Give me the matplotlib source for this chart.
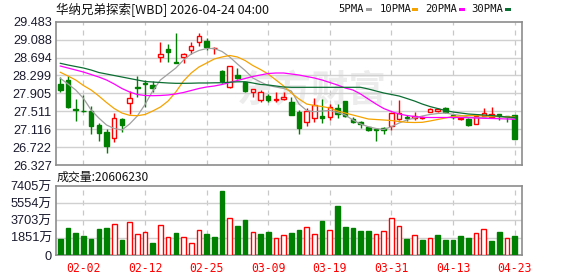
import matplotlib
matplotlib.use("Agg")
import matplotlib.pyplot as plt
import numpy as np

# K-line data (60 trading days)
opens = [28.111, 28.199, 27.553, 27.523, 27.516, 27.208, 27.061, 26.914, 27.340, 27.700,
         28.045, 28.133, 28.089, 28.713, 28.889, 28.603, 28.698, 28.852, 29.029, 29.058,
         28.896, 28.397, 28.037, 28.309, 28.147, 27.927, 27.766, 27.854, 27.766, 27.773,
         27.707, 27.501, 27.281, 27.355, 27.406, 27.391, 27.589, 27.736, 27.332, 27.266,
         27.164, 27.120, 27.134, 27.186, 27.340, 27.380, 27.369, 27.355, 27.501, 27.509,
         27.575, 27.428, 27.340, 27.333, 27.230, 27.413, 27.391, 27.443, 27.406, 27.428]
highs = [28.272, 28.287, 27.780, 27.868, 27.626, 27.244, 27.120, 27.465, 27.369, 27.957,
         28.287, 28.199, 28.177, 29.029, 28.992, 29.227, 28.786, 29.029, 29.227, 29.117,
         28.933, 28.419, 28.515, 28.456, 28.162, 28.001, 27.979, 27.883, 27.942, 27.942,
         27.832, 27.538, 27.589, 27.795, 27.780, 27.663, 27.663, 27.736, 27.391, 27.296,
         27.171, 27.134, 27.171, 27.465, 27.758, 27.428, 27.501, 27.413, 27.582, 27.575,
         27.604, 27.450, 27.384, 27.362, 27.406, 27.575, 27.611, 27.450, 27.413, 27.435]
lows = [27.942, 27.575, 27.296, 27.494, 27.017, 26.855, 26.600, 26.841, 27.061, 27.450,
        27.832, 27.612, 27.927, 28.603, 28.603, 28.566, 28.566, 28.764, 28.955, 28.860,
        28.771, 28.125, 28.030, 28.221, 27.942, 27.832, 27.707, 27.707, 27.707, 27.758,
        27.428, 27.017, 27.193, 27.281, 27.244, 27.318, 27.355, 27.391, 27.244, 27.134,
        27.083, 26.855, 27.002, 27.098, 27.318, 27.296, 27.318, 27.347, 27.494, 27.494,
        27.472, 27.340, 27.318, 27.186, 27.230, 27.413, 27.369, 27.318, 27.281, 26.906]
closes = [27.979, 27.612, 27.538, 27.509, 27.193, 27.039, 26.753, 27.355, 27.208, 27.795,
          28.023, 28.103, 28.015, 28.764, 28.823, 28.566, 28.764, 28.955, 29.168, 28.933,
          28.904, 28.177, 28.500, 28.236, 27.964, 28.001, 27.942, 27.758, 27.780, 27.832,
          27.428, 27.149, 27.516, 27.648, 27.355, 27.611, 27.443, 27.413, 27.281, 27.237,
          27.090, 27.098, 27.098, 27.465, 27.475, 27.362, 27.406, 27.391, 27.560, 27.553,
          27.487, 27.391, 27.362, 27.208, 27.406, 27.472, 27.443, 27.406, 27.384, 26.906]

ma5 = [28.236, 28.111, 27.979, 27.796, 27.538, 27.362, 27.208, 27.131, 27.098, 27.230,
       27.406, 27.659, 27.957, 28.199, 28.331, 28.463, 28.639, 28.772, 28.849, 28.893,
       28.893, 28.827, 28.706, 28.551, 28.408, 28.243, 28.155, 28.078, 28.045, 28.012,
       27.957, 27.670, 27.527, 27.501, 27.516, 27.527, 27.483, 27.428, 27.318, 27.230,
       27.170, 27.131, 27.109, 27.170, 27.252, 27.318, 27.362, 27.406, 27.439, 27.461,
       27.472, 27.443, 27.417, 27.384, 27.373, 27.373, 27.395, 27.395, 27.373, 27.340]
ma10 = [28.369, 28.287, 28.199, 28.078, 27.979, 27.847, 27.703, 27.571, 27.472, 27.421,
        27.413, 27.439, 27.516, 27.604, 27.736, 27.935, 28.177, 28.353, 28.485, 28.573,
        28.662, 28.706, 28.739, 28.706, 28.628, 28.518, 28.430, 28.331, 28.199, 28.067,
        27.913, 27.780, 27.670, 27.637, 27.615, 27.582, 27.516, 27.472, 27.428, 27.384,
        27.340, 27.329, 27.318, 27.307, 27.285, 27.267, 27.263, 27.267, 27.296, 27.329,
        27.362, 27.395, 27.406, 27.417, 27.417, 27.406, 27.395, 27.395, 27.391, 27.384]
ma20 = [28.507, 28.463, 28.419, 28.375, 28.320, 28.265, 28.199, 28.111, 28.012, 27.935,
        27.880, 27.858, 27.853, 27.858, 27.869, 27.891, 27.924, 27.968, 28.012, 28.045,
        28.067, 28.100, 28.144, 28.188, 28.232, 28.276, 28.309, 28.342, 28.353, 28.353,
        28.331, 28.309, 28.276, 28.243, 28.199, 28.144, 28.089, 28.023, 27.979, 27.891,
        27.780, 27.670, 27.571, 27.505, 27.450, 27.417, 27.395, 27.377, 27.373, 27.373,
        27.373, 27.373, 27.373, 27.369, 27.362, 27.355, 27.351, 27.347, 27.340, 27.333]
ma30 = [28.567, 28.529, 28.496, 28.463, 28.419, 28.364, 28.331, 28.298, 28.265, 28.232,
        28.199, 28.166, 28.155, 28.144, 28.133, 28.126, 28.126, 28.128, 28.133, 28.133,
        28.137, 28.139, 28.150, 28.159, 28.161, 28.133, 28.100, 28.089, 28.067, 28.045,
        28.038, 28.038, 28.038, 28.038, 28.038, 28.038, 28.038, 28.038, 28.038, 28.038,
        28.001, 27.957, 27.913, 27.880, 27.846, 27.792, 27.736, 27.670, 27.615, 27.571,
        27.527, 27.494, 27.472, 27.450, 27.439, 27.428, 27.417, 27.399, 27.384, 27.373]

# volume in 万 shares, and whether close was above the previous close
volume = [1717, 2898, 2361, 2039, 1717, 2790, 2898, 3327, 1610, 3541,
          2254, 2468, 1288, 3220, 1932, 2361, 1932, 1288, 2683, 2254,
          1932, 6868, 3971, 3112, 3756, 2468, 2254, 2468, 1824, 2146,
          2361, 2683, 3005, 2254, 3649, 2683, 5259, 3005, 2898, 2576,
          2576, 2254, 2576, 3971, 3112, 1717, 2146, 1610, 1824, 2146,
          1610, 1610, 2039, 1824, 2361, 2790, 1503, 2468, 1824, 2061]
vol_up = [0, 0, 0, 0, 0, 0, 0, 1, 0, 1,
          1, 1, 0, 1, 1, 0, 1, 1, 1, 0,
          0, 0, 1, 0, 0, 1, 0, 0, 1, 1,
          0, 0, 1, 1, 0, 1, 0, 0, 0, 0,
          0, 1, 1, 1, 1, 0, 1, 0, 1, 0,
          0, 0, 0, 0, 1, 1, 0, 0, 1, 0]

date_pos = [3, 11, 19, 27, 35, 43, 51, 59]
date_labels = ["02-02", "02-12", "02-25", "03-09", "03-19", "03-31", "04-13", "04-23"]
price_ticks = [26.327, 26.722, 27.116, 27.511, 27.905, 28.299, 28.694, 29.088, 29.483]
vol_ticks = [0, 1851, 3703, 5554, 7405]
vol_tick_labels = ["0", "1851万", "3703万", "5554万", "7405万"]
title = "华纳兄弟探索[WBD] 2026-04-24 04:00"
vol_title = "成交量:20606230"
ma_names = ["5PMA", "10PMA", "20PMA", "30PMA"]

RED = "#ff0000"
GREEN = "#008000"
MA_COLORS = ["#a0a0a0", "#f5a300", "#ff00ff", "#0b6e32"]
FRAME = "#8c8c8c"
GRID = "#d0d0d0"

plt.rcParams["font.family"] = ["Liberation Sans", "Noto Sans CJK SC"]

fig = plt.figure(figsize=(5.78, 2.76), dpi=100)
ax = fig.add_axes([56 / 578, 1 - 165 / 276, 466 / 578, 143.3 / 276])
axv = fig.add_axes([56 / 578, 1 - 255 / 276, 466 / 578, 69 / 276])

x = np.arange(len(closes))
o = np.array(opens)
c = np.array(closes)
up = c >= o

# watermark
ax.text(0.55, 0.52, "东方财富", transform=ax.transAxes, fontsize=27, color="#ececec",
        ha="center", va="center", fontweight="bold", family="Noto Sans CJK SC", zorder=0)

# wicks
wick_colors = [RED if u else GREEN for u in up]
ax.vlines(x, lows, highs, colors=wick_colors, linewidth=1.0, zorder=2)
# bodies
bottoms = np.minimum(o, c)
heights = np.maximum(np.abs(c - o), 0.004)
ax.bar(x[up], heights[up], bottom=bottoms[up], width=0.58, facecolor="white",
       edgecolor=RED, linewidth=1.0, zorder=3)
ax.bar(x[~up], heights[~up], bottom=bottoms[~up], width=0.58, facecolor=GREEN,
       edgecolor=GREEN, linewidth=1.0, zorder=3)

for ma, col in zip([ma5, ma10, ma20, ma30], MA_COLORS):
    ax.plot(x, ma, color=col, linewidth=0.9, zorder=4)

# volume
vu = np.array(vol_up, dtype=bool)
v = np.array(volume)
axv.bar(x[vu], v[vu], width=0.6, facecolor="white", edgecolor=RED, linewidth=1.0, zorder=3)
axv.bar(x[~vu], v[~vu], width=0.6, facecolor=GREEN, edgecolor=GREEN, linewidth=1.0, zorder=3)

for a in (ax, axv):
    a.set_xlim(-0.56, 59.96)
    for s in a.spines.values():
        s.set_color(FRAME)
        s.set_linewidth(1.2)
    for p in date_pos:
        a.axvline(p, color="#c8c8c8", linewidth=0.9, linestyle=(0, (4, 4)), zorder=1)
    a.tick_params(length=0, labelsize=9.2, labelcolor="#1a1a2e", pad=3)

ax.set_ylim(price_ticks[0], price_ticks[-1])
ax.set_yticks(price_ticks)
ax.set_yticklabels([f"{t:.3f}" for t in price_ticks])
for t in price_ticks[1:-1]:
    ax.axhline(t, color=GRID, linewidth=1.0, zorder=1)
ax.set_xticks([])

axv.set_ylim(0, vol_ticks[-1])
axv.set_yticks(vol_ticks)
axv.set_yticklabels(vol_tick_labels)
for t in vol_ticks[1:-1]:
    axv.axhline(t, color=GRID, linewidth=1.0, zorder=1)
axv.set_xticks(date_pos)
axv.set_xticklabels(date_labels, color=RED, family="DejaVu Sans Mono", fontsize=8.3)
axv.tick_params(axis="x", pad=5)

fig.text(56 / 578, 1 - 10 / 276, title, fontsize=9, family=["Noto Sans CJK SC"],
         va="center", ha="left", color="#111111")
fig.text(57 / 578, 1 - 177.5 / 276, vol_title, fontsize=8.6, family=["Noto Sans CJK SC"],
         va="center", ha="left", color="#111111")

# legend row at top right
leg_x = [338, 379.7, 425, 471]
sw_x = [365.5, 412, 459, 505]
for name, lx, sx, col in zip(ma_names, leg_x, sw_x, MA_COLORS):
    fig.text(lx / 578, 1 - 9.5 / 276, name, fontsize=7.6, family="DejaVu Sans Mono",
             va="center", ha="left", color="#111111")
    fig.patches.append(plt.Rectangle((sx / 578, 1 - 11 / 276), 6 / 578, 3 / 276,
                                     transform=fig.transFigure, facecolor=col,
                                     edgecolor="none"))

fig.savefig("out.png", dpi=100)
